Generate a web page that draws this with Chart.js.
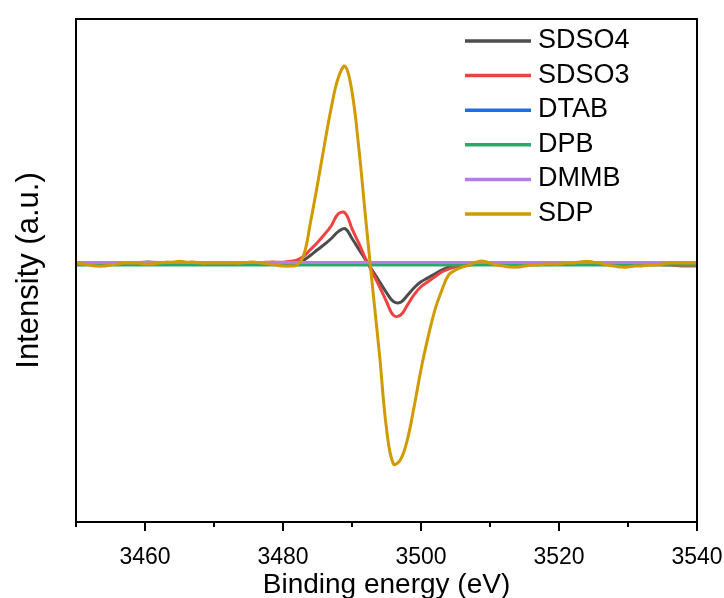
<!DOCTYPE html>
<html>
<head>
<meta charset="utf-8">
<script src="https://cdn.jsdelivr.net/npm/chart.js@4/dist/chart.umd.min.js"></script>
<style>
  html, body { margin: 0; padding: 0; background: #fff; }
  #wrap { width: 724px; height: 598px; }
</style>
</head>
<body>
<div id="wrap"><canvas id="xpsChart" width="724" height="598"></canvas></div>
<script>
// Енергія зв'язку, eV
const energy = [
  3450, 3451, 3452, 3453, 3454, 3455, 3456, 3457, 3458, 3459,
  3460, 3461, 3462, 3463, 3464, 3465, 3466, 3467, 3468, 3469,
  3470, 3471, 3472, 3473, 3474, 3475, 3476, 3477, 3478, 3479,
  3480, 3481, 3482, 3483, 3484, 3485, 3486, 3487, 3488, 3489,
  3490, 3491, 3492, 3493, 3494, 3495, 3496, 3497, 3498, 3499,
  3500, 3501, 3502, 3503, 3504, 3505, 3506, 3507, 3508, 3509,
  3510, 3511, 3512, 3513, 3514, 3515, 3516, 3517, 3518, 3519,
  3520, 3521, 3522, 3523, 3524, 3525, 3526, 3527, 3528, 3529,
  3530, 3531, 3532, 3533, 3534, 3535, 3536, 3537, 3538, 3539,
  3540
];

const sdso4 = [
  0, 0, 0, 0, 0, -0.3, -0.3, 0, 0, 0.3,
  0.5, 0.5, 0.3, 0, 0, 0, 0, 0.3, 0.3, 0,
  -0.3, -0.3, 0, 0, 0, 0, 0, 0, 0, 0,
  0, 0.2, 0.5, 1.5, 4, 6.8, 9.5, 12.5, 16, 17.5,
  12.5, 7, 1.5, -4, -9.5, -15, -19.5, -20, -16.5, -12.5,
  -9.5, -7.5, -5.5, -3.5, -2, -1.2, -0.6, 0, 0.3, 0.3,
  0, 0, -0.3, -0.3, 0, 0, 0, 0, 0, 0,
  0.3, 0.3, 0, 0, 0, -0.3, -0.3, 0, 0, 0,
  0, 0, 0, 0, 0, 0, 0, 0, 0, 0,
  0
];

const sdso3 = [
  0, 0, 0.3, 0.3, 0, 0, 0, 0, -0.3, 0,
  0, 0.3, 0.3, 0, 0, 0, 0.3, 0.5, 0.3, 0,
  0, 0, 0, 0, 0, 0, 0.3, 0.3, 0.5, 0.5,
  0.5, 0.8, 1.5, 3.5, 7, 10.5, 14.5, 19, 25, 25.5,
  17.5, 10, 2, -5, -12, -19.5, -26.5, -26.5, -21.5, -16,
  -12, -9.5, -7, -4.5, -3, -2, -1.5, -1, -0.5, 0,
  0, -0.3, -0.5, -0.5, -0.3, 0, 0, 0, 0, 0,
  0, 0, 0.3, 0.5, 0.3, 0, -0.3, -0.5, -0.5, -0.3,
  0, 0, 0, -0.3, -0.5, -0.8, -1, -1.2, -1.5, -1.5,
  -1.5
];

const dtab = [
  -0.3, -0.3, -0.3, -0.3, -0.3, -0.3, -0.3, -0.3, -0.3, -0.3,
  -0.3, -0.3, -0.3, -0.3, -0.3, -0.3, -0.3, -0.3, -0.3, -0.3,
  -0.3, -0.3, -0.3, -0.3, -0.3, -0.3, -0.3, -0.3, -0.3, -0.3,
  -0.3, -0.3, -0.3, -0.3, -0.3, -0.3, -0.3, -0.3, -0.3, -0.3,
  -0.3, -0.3, -0.3, -0.3, -0.3, -0.3, -0.3, -0.3, -0.3, -0.3,
  -0.3, -0.3, -0.3, -0.3, -0.3, -0.3, -0.3, -0.3, -0.3, -0.3,
  -0.3, -0.3, -0.3, -0.3, -0.3, -0.3, -0.3, -0.3, -0.3, -0.3,
  -0.3, -0.3, -0.3, -0.3, -0.3, -0.3, -0.3, -0.3, -0.3, -0.3,
  -0.3, -0.3, -0.3, -0.3, -0.3, -0.3, -0.3, -0.3, -0.3, -0.3,
  -0.3
];

const dpb = [
  -0.9, -0.9, -0.9, -0.9, -0.9, -0.9, -0.9, -0.9, -0.9, -0.9,
  -0.9, -0.9, -0.9, -0.9, -0.9, -0.9, -0.9, -0.9, -0.9, -0.9,
  -0.9, -0.9, -0.9, -0.9, -0.9, -0.9, -0.9, -0.9, -0.9, -0.9,
  -0.9, -0.9, -0.9, -0.9, -0.9, -0.9, -0.9, -0.9, -0.9, -0.9,
  -0.9, -0.9, -0.9, -0.9, -0.9, -0.9, -0.9, -0.9, -0.9, -0.9,
  -0.9, -0.9, -0.9, -0.9, -0.9, -0.9, -0.9, -0.9, -0.9, -0.9,
  -0.9, -0.9, -0.9, -0.9, -0.9, -0.9, -0.9, -0.9, -0.9, -0.9,
  -0.9, -0.9, -0.9, -0.9, -0.9, -0.9, -0.9, -0.9, -0.9, -0.9,
  -0.9, -0.9, -0.9, -0.9, -0.9, -0.9, -0.9, -0.9, -0.9, -0.9,
  -0.9
];

const dmmb = [
  0.3, 0.3, 0.3, 0.3, 0.3, 0.3, 0.3, 0.3, 0.3, 0.3,
  0.3, 0.3, 0.3, 0.3, 0.3, 0.3, 0.3, 0.3, 0.3, 0.3,
  0.3, 0.3, 0.3, 0.3, 0.3, 0.3, 0.3, 0.3, 0.3, 0.3,
  0.3, 0.3, 0.3, 0.3, 0.3, 0.3, 0.3, 0.3, 0.3, 0.3,
  0.3, 0.3, 0.3, 0.3, 0.3, 0.3, 0.3, 0.3, 0.3, 0.3,
  0.3, 0.3, 0.3, 0.3, 0.3, 0.3, 0.3, 0.3, 0.3, 0.3,
  0.3, 0.3, 0.3, 0.3, 0.3, 0.3, 0.3, 0.3, 0.3, 0.3,
  0.3, 0.3, 0.3, 0.3, 0.3, 0.3, 0.3, 0.3, 0.3, 0.3,
  0.3, 0.3, 0.3, 0.3, 0.3, 0.3, 0.3, 0.3, 0.3, 0.3,
  0.3
];

const sdp = [
  0, -0.5, -1, -1.5, -1.5, -1, -0.5, 0, 0, 0,
  -0.5, -0.5, 0, 0.5, 0.5, 1, 0.5, 0.5, 0, 0,
  0, 0, 0, 0, 0, 0.5, 0.5, 0, -0.5, -1,
  -1.5, -1.5, -1, 4, 21, 40, 60, 79, 94, 100,
  87, 58, 22, -13, -47, -84, -102, -100, -90, -73,
  -54, -38, -24, -14, -6, -3.5, -2, -1, 0.5, 1,
  0, -1, -1.5, -2, -2, -1.5, -1, -1, -0.5, -0.5,
  -0.5, 0, 0, 0.5, 1, 0.5, 0, -1, -1.5, -2,
  -2, -1.5, -1.5, -1, -1, -0.5, 0, 0, 0, 0,
  0
];

const seriesNames = ['SDSO4', 'SDSO3', 'DTAB', 'DPB', 'DMMB', 'SDP'];
const seriesColors = ['#4d4d4d', '#f04242', '#1e6fe0', '#2ca86a', '#b27ee3', '#d09a00'];
const seriesValues = [sdso4, sdso3, dtab, dpb, dmmb, sdp];

const majorTicks = [3460, 3480, 3500, 3520, 3540];
const minorTicks = [3450, 3470, 3490, 3510, 3530];

const FONT = "'Liberation Sans', Arial, sans-serif";

// Рамка, засічки осі X та легенда
const framePlugin = {
  id: 'frame',
  afterDatasetsDraw(chart) {
    const { ctx, chartArea: a, scales: { x } } = chart;
    ctx.save();
    ctx.strokeStyle = '#000';
    ctx.lineWidth = 2;
    ctx.strokeRect(a.left, a.top, a.right - a.left, a.bottom - a.top);

    ctx.beginPath();
    majorTicks.forEach(v => {
      const px = Math.round(x.getPixelForValue(v));
      ctx.moveTo(px, a.bottom);
      ctx.lineTo(px, a.bottom + 9);
    });
    minorTicks.forEach(v => {
      const px = Math.round(x.getPixelForValue(v));
      ctx.moveTo(px, a.bottom);
      ctx.lineTo(px, a.bottom + 5);
    });
    ctx.stroke();

    // легенда
    ctx.font = '27px ' + FONT;
    ctx.textBaseline = 'middle';
    ctx.textAlign = 'left';
    chart.data.datasets.forEach((ds, i) => {
      const y = 40.5 + i * 34.6;
      ctx.strokeStyle = ds.borderColor;
      ctx.lineWidth = 3.5;
      ctx.beginPath();
      ctx.moveTo(465, y + 0.5);
      ctx.lineTo(531, y + 0.5);
      ctx.stroke();
      ctx.fillStyle = '#000';
      ctx.fillText(ds.label, 538, y);
    });
    ctx.restore();
  }
};

const datasets = seriesNames.map((name, i) => ({
  label: name,
  data: seriesValues[i],
  borderColor: seriesColors[i],
  backgroundColor: seriesColors[i],
  borderWidth: 3,
  pointRadius: 0,
  tension: 0.4,
  order: seriesNames.length - i
}));

new Chart(document.getElementById('xpsChart'), {
  type: 'line',
  data: { labels: energy, datasets: datasets },
  options: {
    responsive: false,
    animation: false,
    layout: { padding: { top: 19, right: 27, left: 0, bottom: 0 } },
    plugins: {
      legend: { display: false },
      tooltip: { enabled: false }
    },
    scales: {
      x: {
        type: 'linear',
        min: 3450,
        max: 3540,
        afterBuildTicks: (scale) => { scale.ticks = majorTicks.map(v => ({ value: v })); },
        afterFit: (scale) => {
          scale.height = 76;
          scale.paddingLeft = 0;
          scale.paddingRight = 0;
        },
        grid: { display: false, drawTicks: false },
        border: { display: false },
        ticks: {
          color: '#000',
          padding: 22,
          maxRotation: 0,
          autoSkip: false,
          font: { family: FONT, size: 23 },
          callback: (v) => String(v)
        },
        title: {
          display: true,
          text: 'Binding energy (eV)',
          color: '#000',
          font: { family: FONT, size: 28 },
          padding: { top: 0, bottom: -4 }
        }
      },
      y: {
        min: -131.5,
        max: 124,
        afterFit: (scale) => { scale.width = 76; },
        grid: { display: false, drawTicks: false },
        border: { display: false },
        ticks: { display: false },
        title: {
          display: true,
          text: 'Intensity (a.u.)',
          color: '#000',
          font: { family: FONT, size: 31 },
          padding: { top: 10.5, bottom: 0 }
        }
      }
    }
  },
  plugins: [framePlugin]
});
</script>
</body>
</html>
